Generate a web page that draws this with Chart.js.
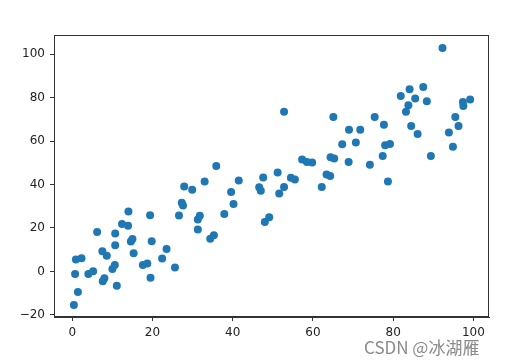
<!DOCTYPE html>
<html>
<head>
<meta charset="utf-8">
<script src="https://cdn.jsdelivr.net/npm/chart.js@4/dist/chart.umd.min.js"></script>
<style>
  html, body { margin: 0; padding: 0; background: #fff; }
  #wrap { position: relative; width: 511px; height: 364px; }
  #mark {
    position: absolute; left: 364px; top: 334px;
    font: 17px "Noto Sans CJK SC", "DejaVu Sans", sans-serif;
    color: #8a8a8a; white-space: nowrap;
    text-shadow: 0 0 2px #fff, 0 0 2px #fff;
  }
</style>
</head>
<body>
<div id="wrap">
  <canvas id="chart" width="511" height="364"></canvas>
  <div id="mark">CSDN @冰湖雁</div>
</div>
<script>
// scatter points
const xValues = [0.4, 1.4, 0.7, 0.9, 2.3, 4.0, 5.2, 6.2, 7.5, 8.6, 7.6, 8.0, 10.0, 10.6, 10.7, 10.7, 11.1, 12.4, 13.9, 14.0,
  14.6, 15.0, 15.3, 17.6, 18.7, 19.4, 19.8, 19.5, 22.4, 23.5, 25.6, 26.6, 27.3, 27.6, 27.9, 29.9, 31.3, 31.8, 31.3, 33.0,
  34.4, 35.3, 35.9, 37.9, 39.6, 40.2, 41.5, 46.6, 47.0, 47.6, 48.0, 49.1, 51.2, 52.8, 52.8, 51.6, 54.5, 55.5, 57.3, 58.5,
  59.8, 62.2, 63.4, 64.3, 64.4, 65.3, 65.1, 69.0, 67.3, 68.9, 70.7, 71.8, 74.2, 75.4, 77.7, 78.0, 79.2, 77.4, 78.7, 92.3,
  81.9, 84.1, 87.5, 85.5, 88.4, 83.8, 83.2, 84.5, 86.1, 89.4, 93.9, 94.9, 95.5, 96.3, 97.4, 97.5, 99.2];
const yValues = [-15.5, -9.5, -1.2, 5.5, 6.1, -1.2, 0.1, 18.1, 9.3, 7.2, -4.5, -3.2, 1.1, 2.9, 12.0, 17.5, -6.6, 21.8, 21.0, 27.6,
  13.8, 14.9, 8.4, 3.0, 3.7, 25.9, 13.9, -2.9, 6.0, 10.3, 1.8, 25.8, 31.6, 30.4, 39.1, 37.6, 23.9, 25.6, 19.3, 41.4,
  15.0, 16.7, 48.6, 26.4, 36.6, 31.1, 41.9, 38.8, 37.1, 43.3, 22.8, 25.0, 45.6, 73.6, 38.9, 35.9, 43.1, 42.3, 51.5, 50.4,
  50.2, 38.9, 44.6, 43.9, 52.6, 52.0, 71.1, 65.2, 58.6, 50.4, 59.4, 65.2, 49.1, 71.1, 67.6, 58.1, 58.7, 53.2, 41.4, 102.9,
  80.8, 83.9, 85.0, 79.6, 78.4, 76.5, 73.5, 67.0, 63.3, 53.2, 64.0, 57.4, 71.1, 67.0, 78.0, 76.2, 79.2];

const xTicks = [0, 20, 40, 60, 80, 100];
const yTicks = [-20, 0, 20, 40, 60, 80, 100];

const points = xValues.map((x, i) => ({ x: x, y: yValues[i] }));

// top and right spines
const boxPlugin = {
  id: "box",
  afterDraw(chart) {
    const a = chart.chartArea;
    const ctx = chart.ctx;
    ctx.save();
    ctx.strokeStyle = "#333";
    ctx.lineWidth = 1;
    ctx.strokeRect(a.left + 0.5, a.top + 0.5, a.right - a.left - 1, a.bottom - a.top - 1);
    ctx.restore();
  }
};

const tickFont = { family: "DejaVu Sans", size: 12 };

new Chart(document.getElementById("chart"), {
  type: "scatter",
  data: {
    datasets: [{
      data: points,
      backgroundColor: "#1f77b4",
      borderWidth: 0,
      pointRadius: 4,
      pointHoverRadius: 4
    }]
  },
  plugins: [boxPlugin],
  options: {
    responsive: false,
    animation: false,
    layout: { padding: { top: 35, right: 22, left: 0, bottom: 0 } },
    plugins: { legend: { display: false }, tooltip: { enabled: false } },
    scales: {
      x: {
        type: "linear",
        min: -4.56,
        max: 103.9,
        afterBuildTicks: (s) => { s.ticks = xTicks.map(v => ({ value: v })); },
        afterFit: (s) => { s.height = 47; },
        grid: { drawOnChartArea: false, drawTicks: true, tickLength: 4, tickColor: "#333" },
        border: { color: "#333" },
        ticks: { color: "#222", font: tickFont, padding: 5, maxRotation: 0,
          callback: (v) => String(v).replace("-", "\u2212") }
      },
      y: {
        type: "linear",
        min: -21.0,
        max: 108.9,
        afterBuildTicks: (s) => { s.ticks = yTicks.map(v => ({ value: v })); },
        afterFit: (s) => { s.width = 54; },
        grid: { drawOnChartArea: false, drawTicks: true, tickLength: 4, tickColor: "#333" },
        border: { color: "#333" },
        ticks: { color: "#222", font: tickFont, padding: 5,
          callback: (v) => String(v).replace("-", "\u2212") }
      }
    }
  }
});
</script>
</body>
</html>
